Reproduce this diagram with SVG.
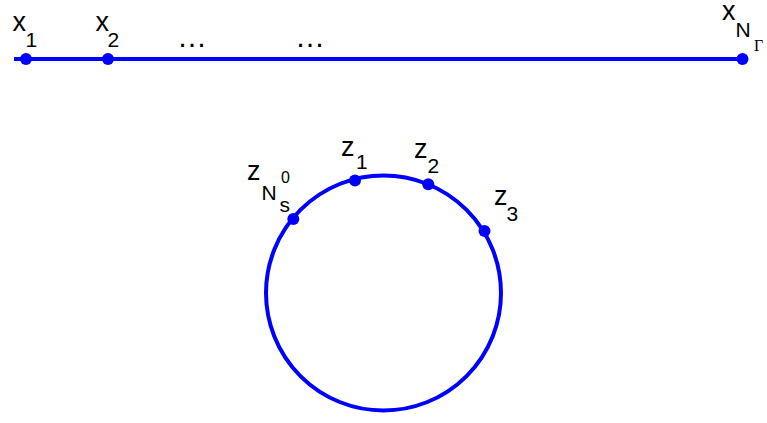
<svg xmlns="http://www.w3.org/2000/svg" width="767" height="423" viewBox="0 0 767 423">
<style>
.ln{stroke:#0000ff;stroke-width:4;fill:none}
.dot{fill:#0000ff}
text{font-family:"Liberation Sans",Arial,sans-serif;fill:#000}
.m{font-size:27px}
.s{font-size:21px}
.ss{font-size:16px}
.g{font-family:"Liberation Serif","Times New Roman",serif;font-size:16px}
.el{font-size:30px}
</style>
<g id="connectors">
<line class="ln" x1="14" y1="59" x2="743" y2="59"/>
<circle class="ln" cx="383.5" cy="293" r="117.5"/>
</g>
<g id="x1"><circle class="dot" cx="26" cy="59" r="6"/><text class="m" x="12.5" y="31">x</text><text class="s" x="25.5" y="47">1</text></g>
<g id="x2"><circle class="dot" cx="108" cy="59" r="6"/><text class="m" x="95.5" y="31">x</text><text class="s" x="107.5" y="47">2</text></g>
<g id="dots1"><text class="el" x="177" y="47">…</text></g>
<g id="dots2"><text class="el" x="295" y="47">…</text></g>
<g id="xN"><circle class="dot" cx="742.5" cy="59" r="6"/><text class="m" x="722" y="20">x</text><text class="s" x="735.5" y="37">N</text><text class="g" x="754" y="51">Γ</text></g>
<g id="z1"><circle class="dot" cx="355" cy="180.5" r="6"/><text class="m" x="341" y="156">z</text><text class="s" x="356" y="169">1</text></g>
<g id="z2"><circle class="dot" cx="428.3" cy="184.3" r="6"/><text class="m" x="414" y="158">z</text><text class="s" x="427.5" y="173">2</text></g>
<g id="z3"><circle class="dot" cx="484.5" cy="231" r="6"/><text class="m" x="494" y="205">z</text><text class="s" x="506.5" y="221">3</text></g>
<g id="zNs"><circle class="dot" cx="293.3" cy="219" r="6"/><text class="m" x="247" y="180">z</text><text class="s" x="261.5" y="200">N</text><text class="ss" x="281" y="183">0</text><text style="font-size:21px" x="279.5" y="211.5">s</text></g>
</svg>
